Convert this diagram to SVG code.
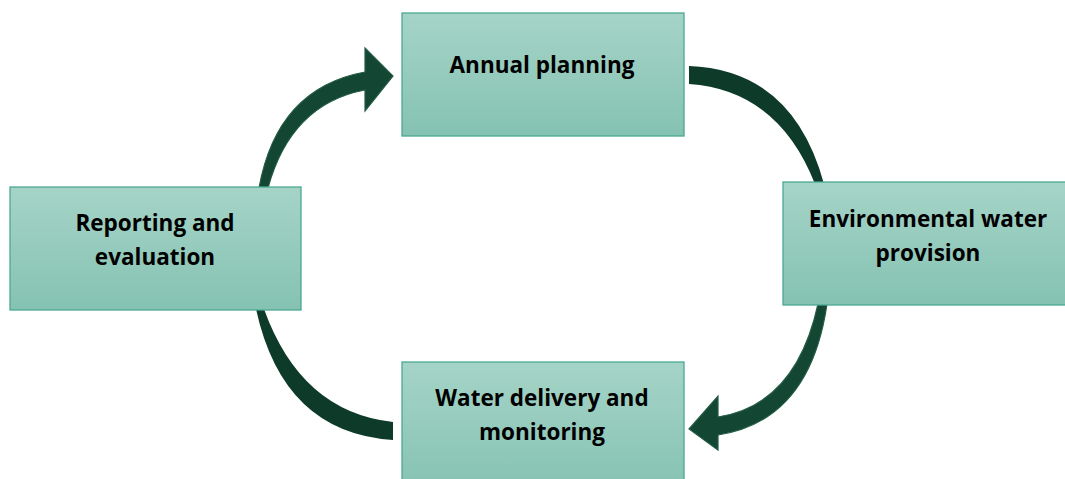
<svg xmlns="http://www.w3.org/2000/svg" width="1065" height="479" viewBox="0 0 1065 479">
  <defs>
    <linearGradient id="boxFill" x1="0" y1="0" x2="0" y2="1">
      <stop offset="0" stop-color="#a5d4c7"/>
      <stop offset="1" stop-color="#85c2b2"/>
    </linearGradient>
    <style>
      .box { fill: url(#boxFill); stroke: #4aa892; stroke-width: 1.3; }
      .label { font-family: "Open Sans", "Noto Sans", "DejaVu Sans", sans-serif; font-weight: bold; font-size: 22.5px; fill: #000; text-anchor: middle; }
      .band { fill: #0e3a29; }
      .arrow { fill: #134633; stroke: #245c45; stroke-width: 1.2; stroke-linejoin: miter; }
    </style>
  </defs>

  <!-- curved connectors running clockwise round the cycle -->
  <g id="connectors">
    <!-- reporting -> annual planning -->
    <path class="arrow" d="M259,188 Q277,88 365,72 L365,48 L393,76 L365,111 L365,90 Q291,104 268,188 Z"/>
    <!-- annual planning -> environmental water provision -->
    <path class="band" d="M689,66 Q793,70 824,184 L815,184 Q778,90 689,84 Z"/>
    <!-- environmental water provision -> water delivery -->
    <path class="arrow" d="M827,304 Q810,421 718,435 L718,450 L689,429 L718,396 L718,417 Q796,405 818,304 Z"/>
    <!-- reporting -> water delivery (closing the loop) -->
    <path class="band" d="M256,309 Q283,433 393,440 L393,422 Q301,412 264,309 Z"/>
  </g>

  <g id="annual-planning">
    <rect class="box" x="402" y="13" width="282" height="123"/>
    <text class="label" x="542" y="73">Annual planning</text>
  </g>

  <g id="environmental-water-provision">
    <rect class="box" x="783" y="182" width="290" height="123"/>
    <text class="label" x="928" y="227">Environmental water</text>
    <text class="label" x="928" y="261">provision</text>
  </g>

  <g id="water-delivery-and-monitoring">
    <rect class="box" x="402" y="362" width="282" height="130"/>
    <text class="label" x="542" y="406">Water delivery and</text>
    <text class="label" x="542" y="440">monitoring</text>
  </g>

  <g id="reporting-and-evaluation">
    <rect class="box" x="10" y="187" width="291" height="123"/>
    <text class="label" x="155" y="231">Reporting and</text>
    <text class="label" x="155" y="265">evaluation</text>
  </g>
</svg>
